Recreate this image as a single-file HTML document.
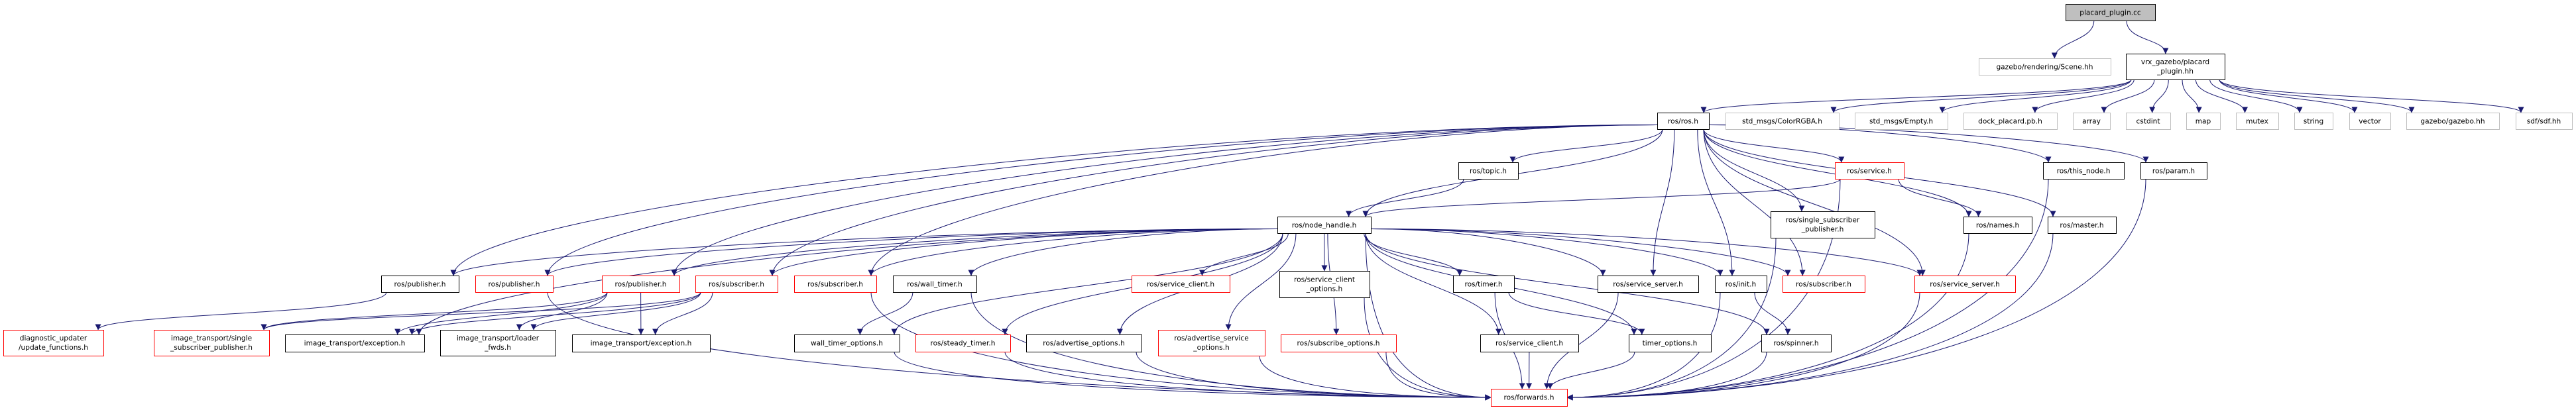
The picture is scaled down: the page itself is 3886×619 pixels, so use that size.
<!DOCTYPE html>
<html><head><meta charset="utf-8">
<style>
html,body{margin:0;padding:0;background:#fff;}
body{width:3886px;height:619px;overflow:hidden;position:relative;}
svg{position:absolute;left:0;top:0;}
text{font-family:"DejaVu Sans","Liberation Sans",sans-serif;font-size:10.6px;fill:#000;text-anchor:middle;}
</style></head><body>
<svg id="g" width="3886" height="619" viewBox="0 0 3886 619" xmlns="http://www.w3.org/2000/svg">
<defs>
<marker id="ah" viewBox="0 0 10 10" refX="9.5" refY="5" markerWidth="10" markerHeight="9" markerUnits="userSpaceOnUse" orient="auto">
<path d="M0,0 L10,5 L0,10 z" fill="#191970"/>
</marker>
</defs>
<g id="edges" fill="none" stroke="#191970" stroke-width="1"></g>
<g id="boxes"></g>
<g id="labels">
<text x="3183.5" y="22.5">placard_plugin.cc</text>
<text x="3084.5" y="104.5">gazebo/rendering/Scene.hh</text>
<text x="3281.5" y="97">vrx_gazebo/placard</text>
<text x="3281.5" y="111">_plugin.hh</text>
<text x="2539" y="186.5">ros/ros.h</text>
<text x="2688.5" y="186.5">std_msgs/ColorRGBA.h</text>
<text x="2868" y="186.5">std_msgs/Empty.h</text>
<text x="3032.5" y="186.5">dock_placard.pb.h</text>
<text x="3155" y="186.5">array</text>
<text x="3240.5" y="186.5">cstdint</text>
<text x="3323.5" y="186.5">map</text>
<text x="3405" y="186.5">mutex</text>
<text x="3490" y="186.5">string</text>
<text x="3575" y="186.5">vector</text>
<text x="3700" y="186.5">gazebo/gazebo.hh</text>
<text x="3837.5" y="186.5">sdf/sdf.hh</text>
<text x="2245" y="261.5">ros/topic.h</text>
<text x="2820" y="261.5">ros/service.h</text>
<text x="3143" y="261.5">ros/this_node.h</text>
<text x="3279" y="261.5">ros/param.h</text>
<text x="1997.5" y="343.5">ros/node_handle.h</text>
<text x="2749.5" y="335.5">ros/single_subscriber</text>
<text x="2749.5" y="349.5">_publisher.h</text>
<text x="3013.5" y="343.5">ros/names.h</text>
<text x="3140.5" y="343.5">ros/master.h</text>
<text x="633.5" y="432.5">ros/publisher.h</text>
<text x="775.5" y="432.5">ros/publisher.h</text>
<text x="966.5" y="432.5">ros/publisher.h</text>
<text x="1111" y="432.5">ros/subscriber.h</text>
<text x="1260" y="432.5">ros/subscriber.h</text>
<text x="1410" y="432.5">ros/wall_timer.h</text>
<text x="1781" y="432.5">ros/service_client.h</text>
<text x="1998" y="425.5">ros/service_client</text>
<text x="1998" y="439.5">_options.h</text>
<text x="2238" y="432.5">ros/timer.h</text>
<text x="2486" y="432.5">ros/service_server.h</text>
<text x="2626" y="432.5">ros/init.h</text>
<text x="2751" y="432.5">ros/subscriber.h</text>
<text x="2964" y="432.5">ros/service_server.h</text>
<text x="80.5" y="514">diagnostic_updater</text>
<text x="80.5" y="528">/update_functions.h</text>
<text x="319" y="514">image_transport/single</text>
<text x="319" y="528">_subscriber_publisher.h</text>
<text x="535" y="521.5">image_transport/exception.h</text>
<text x="751" y="514">image_transport/loader</text>
<text x="751" y="528">_fwds.h</text>
<text x="967" y="521.5">image_transport/exception.h</text>
<text x="1277.5" y="521.5">wall_timer_options.h</text>
<text x="1452.5" y="521.5">ros/steady_timer.h</text>
<text x="1635" y="521.5">ros/advertise_options.h</text>
<text x="1827.5" y="514">ros/advertise_service</text>
<text x="1827.5" y="528">_options.h</text>
<text x="2019" y="521.5">ros/subscribe_options.h</text>
<text x="2307" y="521.5">ros/service_client.h</text>
<text x="2519" y="521.5">timer_options.h</text>
<text x="2709.5" y="521.5">ros/spinner.h</text>
<text x="2306.5" y="603.5">ros/forwards.h</text>
</g>
</svg>
<script>
var N={
P:[3116,6,135,25,'f'],SC:[2985,88,199,25,'g'],VRX:[3207,81,149,39,'b'],
ROS:[2500,170,78,25,'b'],CRGBA:[2603,170,171,25,'g'],EMP:[2798,170,140,25,'g'],DOCK:[2962,170,141,25,'g'],
ARR:[3127,170,56,25,'g'],CST:[3207,170,67,25,'g'],MAP:[3298,170,51,25,'g'],MUT:[3373,170,64,25,'g'],
STR:[3461,170,58,25,'g'],VEC:[3544,170,62,25,'g'],GZ:[3630,170,140,25,'g'],SDF:[3795,170,85,25,'g'],
TOPIC:[2200,245,90,25,'b'],SERV:[2768,245,104,25,'r'],THIS:[3082,245,122,25,'b'],PARAM:[3229,245,100,25,'b'],
NH:[1927,327,141,25,'b'],SSP:[2671,319,157,40,'b'],NAMES:[2962,327,103,25,'b'],MASTER:[3089,327,103,25,'b'],
PUB:[575,416,117,25,'b'],PUBR1:[717,416,117,25,'r'],PUBR2:[908,416,117,25,'r'],SUBR1:[1049,416,124,25,'r'],
SUBR2:[1198,416,124,25,'r'],WT:[1347,416,126,25,'b'],SCR:[1707,416,148,25,'r'],SCO:[1930,409,136,40,'b'],
TIMER:[2192,416,92,25,'b'],SSV:[2410,416,152,25,'b'],INIT:[2587,416,78,25,'b'],SUBR3:[2689,416,124,25,'r'],
SSVR:[2888,416,152,25,'r'],DIAG:[5,498,151,39,'r'],ITSSP:[232,498,174,39,'r'],EXC1:[430,505,210,26,'b'],
LF:[664,498,174,39,'b'],EXC2:[863,505,208,26,'b'],WTO:[1198,505,159,26,'b'],STT:[1381,505,143,26,'r'],
ADV:[1548,505,174,26,'b'],ADVS:[1747,498,161,39,'r'],SUBO:[1932,505,174,26,'r'],SCB:[2233,505,148,26,'b'],
TO:[2457,505,124,26,'b'],SPIN:[2657,505,105,26,'b'],FWD:[2249,587,115,26,'r']};
var E=[['P','SC'],['P','VRX']];
['ROS','CRGBA','EMP','DOCK','ARR','CST','MAP','MUT','STR','VEC','GZ','SDF'].forEach(function(t){E.push(['VRX',t]);});
['PUB','PUBR1','PUBR2','SUBR1','SUBR2','TOPIC','NH','SSV','INIT','SUBR3','SERV','SSP','NAMES','MASTER','THIS','PARAM','SSVR'].forEach(function(t){E.push(['ROS',t]);});
E.push(['TOPIC','NH'],['SERV','NH'],['SERV','NAMES'],['SERV','FWD']);
['PUB','PUBR1','PUBR2','SUBR1','SUBR2','WT','SCR','SCO','WTO','STT','ADV','ADVS','SUBO','TIMER','SCB','TO','SSV','INIT','SUBR3','SSVR','SPIN','FWD','EXC1'].forEach(function(t){E.push(['NH',t]);});
E.push(['PUB','DIAG'],['PUBR1','FWD'],['PUBR2','ITSSP'],['PUBR2','EXC1'],['PUBR2','LF'],['PUBR2','EXC2'],
['SUBR1','ITSSP'],['SUBR1','EXC1'],['SUBR1','LF'],['SUBR1','EXC2'],['SUBR2','FWD'],['WT','WTO'],['WT','FWD'],
['WTO','FWD'],['STT','FWD'],['ADV','FWD'],['ADVS','FWD'],['SUBO','FWD'],['SCO','FWD'],['SCB','FWD'],['TIMER','TO'],
['TIMER','FWD'],['TO','FWD'],['SSV','FWD'],['INIT','SPIN'],['INIT','FWD'],['SPIN','FWD'],['SSP','FWD'],['SSVR','FWD'],
['NAMES','FWD'],['MASTER','FWD'],['THIS','FWD'],['PARAM','FWD']);
function cl(v,a,b){return Math.max(a,Math.min(b,v));}
var eg=document.getElementById('edges'),bg=document.getElementById('boxes'),h='';
E.forEach(function(e){var a=N[e[0]],b=N[e[1]];
 var acx=a[0]+a[2]/2,acy=a[1]+a[3]/2,bcx=b[0]+b[2]/2,bcy=b[1]+b[3]/2;
 var dx=bcx-acx,dy=bcy-acy,sx,sy,c1x,c1y,tx,ty,c2x,c2y;
 var side=(e[0]=='ROS'||e[0]=='NH')&&Math.abs(dx)>5*Math.abs(dy);
 if(side){
   sx=dx<0?a[0]:a[0]+a[2]; sy=cl(acy+(dy>0?6:0),a[1]+3,a[1]+a[3]-3);
   c1x=sx+dx*0.35; c1y=sy;
 } else {
   sx=cl(acx+dx*0.25,a[0]+8,a[0]+a[2]-8); sy=a[1]+a[3];
   c1x=sx; c1y=sy+(bcy-sy)*0.45;
 }
 if(e[1]=='FWD' && Math.abs(dx)>250){
   tx=dx>0?b[0]:b[0]+b[2]; ty=bcy;
   c2x=tx-(dx>0?1:-1)*Math.min(Math.abs(dx)*0.4,400); c2y=ty;
   c1x=sx; c1y=sy+(ty-sy)*0.7;
 } else {
   tx=cl(bcx-dx*0.15,b[0]+8,b[0]+b[2]-8); ty=b[1];
   c2x=tx; c2y=ty-(ty-sy)*0.45;
 }
 h+='<path marker-end="url(#ah)" d="M'+sx.toFixed(1)+','+sy.toFixed(1)+' C'+c1x.toFixed(1)+','+c1y.toFixed(1)+' '+c2x.toFixed(1)+','+c2y.toFixed(1)+' '+tx.toFixed(1)+','+ty.toFixed(1)+'"/>';});
eg.innerHTML=h;
var bh='';
for(var k in N){var b=N[k],st=b[4]=='g'?'#bfbfbf':(b[4]=='r'?'#ff0000':'#000'),fl=b[4]=='f'?'#bfbfbf':'#fff';
 bh+='<rect x="'+(b[0]+0.5)+'" y="'+(b[1]+0.5)+'" width="'+b[2]+'" height="'+b[3]+'" fill="'+fl+'" stroke="'+st+'" stroke-width="1"/>';}
bg.innerHTML=bh;
</script>
</body></html>
